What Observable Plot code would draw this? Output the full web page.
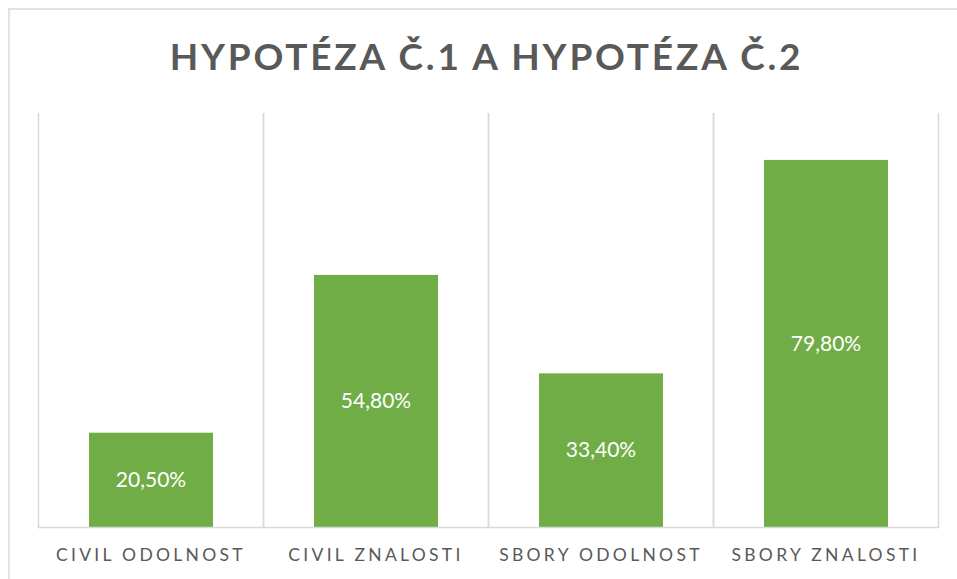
<!DOCTYPE html>
<html>
<head>
<meta charset="utf-8">
<script src="https://cdn.jsdelivr.net/npm/d3@7"></script>
<script src="https://cdn.jsdelivr.net/npm/@observablehq/plot@0.6"></script>
<style>
  html, body { margin: 0; padding: 0; background: #fff; }
  body { width: 957px; height: 579px; overflow: hidden; position: relative; font-family: Lato, "Open Sans", sans-serif; }
  #border { position: absolute; left: 8px; top: 8px; width: 1000px; height: 1000px; border: 2px solid #e2e2e2; box-sizing: border-box; }
  #title { position: absolute; left: 16px; right: 0; top: 37px; text-align: center; font: bold 37px Lato, sans-serif; line-height: 1; letter-spacing: 2.8px; color: #595959; white-space: nowrap; }
  #chart { position: absolute; left: 0; top: 113px; }
  #chart svg [aria-label="fx-axis tick label"] text { letter-spacing: 3.3px; }
</style>
</head>
<body>
<div id="border"></div>
<div id="title">HYPOTÉZA Č.1 A HYPOTÉZA Č.2</div>
<div id="chart"></div>
<script>
const categories = ["Civil odolnost", "Civil znalosti", "Sbory odolnost", "Sbory znalosti"];
const values = [20.5, 54.8, 33.4, 79.8];
const yDomain = [0, 90];

const data = categories.map((c, i) => ({ category: c, value: values[i] }));
const fmt = v => v.toFixed(2).replace(".", ",") + "%";

const chart = Plot.plot({
  width: 957,
  height: 466,
  marginTop: 0,
  marginBottom: 52,
  marginLeft: 37,
  marginRight: 18,
  style: { fontFamily: "Lato, sans-serif", fontSize: "17.5px", color: "#595959", background: "transparent" },
  fx: { domain: categories, padding: 0, label: null, axis: "bottom", tickSize: 0, tickPadding: 21, tickFormat: d => d.toUpperCase() },
  y: { domain: yDomain, axis: null },
  marks: [
    Plot.frame({ anchor: "left", stroke: "#d9d9d9", strokeWidth: 1.5 }),
    Plot.frame({ anchor: "right", stroke: "#d9d9d9", strokeWidth: 1.5 }),
    Plot.barY(data, { fx: "category", y: "value", fill: "#70AD47", insetLeft: 51, insetRight: 50 }),
    Plot.ruleY([0], { stroke: "#d9d9d9", strokeWidth: 1.5 }),
    Plot.text(data, { fx: "category", y: d => d.value / 2, text: d => fmt(d.value), fill: "white", fontSize: 21, fontFamily: "Lato, sans-serif" })
  ]
});
document.getElementById("chart").appendChild(chart);
</script>
</body>
</html>
